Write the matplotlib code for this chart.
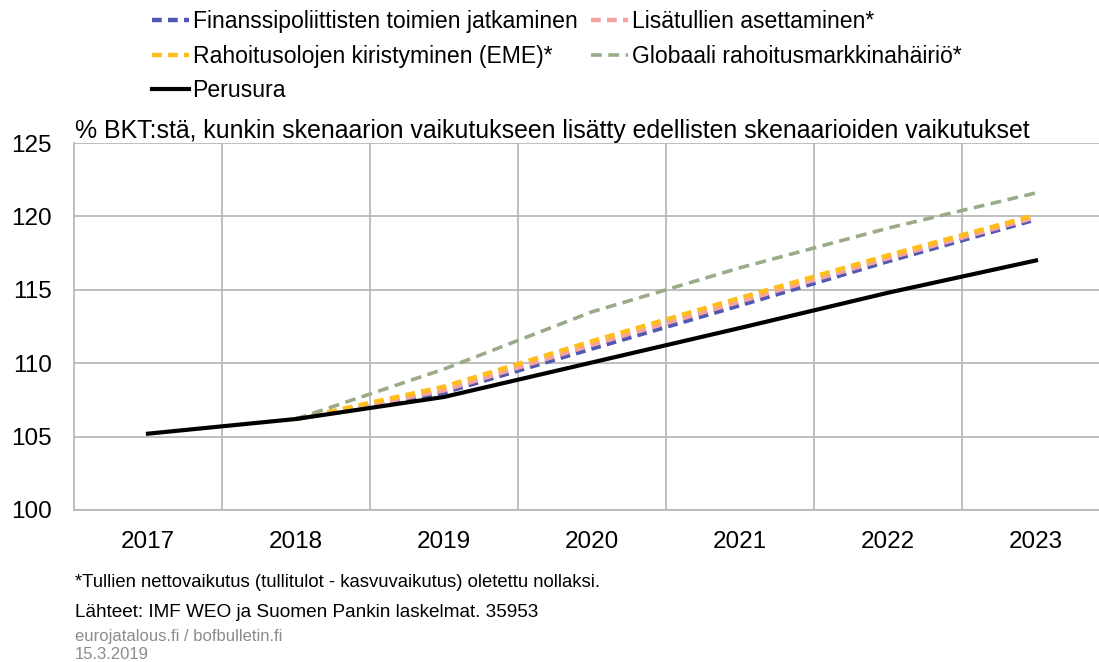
import numpy as np
import matplotlib
matplotlib.use('Agg')
import matplotlib.pyplot as plt

plt.rcParams['font.family'] = ['Liberation Sans', 'DejaVu Sans']

years = ['2017', '2018', '2019', '2020', '2021', '2022', '2023']

# scenario paths, % of GDP (cumulative effects)
finanssi = [np.nan, 106.2, 108.0, 111.0, 113.95, 116.95, 119.8]
lisatullit = [np.nan, 106.2, 108.15, 111.25, 114.2, 117.15, 119.95]
rahoitus_eme = [np.nan, 106.2, 108.4, 111.5, 114.45, 117.35, 120.1]
globaali = [np.nan, 106.2, 109.6, 113.5, 116.5, 119.2, 121.6]
perusura = [105.2, 106.2, 107.7, 110.05, 112.4, 114.8, 117.0]

labels = ['Finanssipoliittisten toimien jatkaminen',
          'Lisätullien asettaminen*',
          'Rahoitusolojen kiristyminen (EME)*',
          'Globaali rahoitusmarkkinahäiriö*',
          'Perusura']

fig = plt.figure(figsize=(10.99, 6.62), dpi=100)
ax = fig.add_axes([74 / 1099, 152 / 662, 1036 / 1099, 367 / 662])

x = np.arange(len(years))
dash = (0, (2.2, 1.4))
l1, = ax.plot(x, finanssi, color='#5058b4', lw=3.2, linestyle=dash)
l2, = ax.plot(x, lisatullit, color='#f4a3a0', lw=3.2, linestyle=dash)
l3, = ax.plot(x, rahoitus_eme, color='#ffbe1a', lw=3.2, linestyle=dash)
l4, = ax.plot(x, globaali, color='#9aab8a', lw=2.6, linestyle=(0, (3, 1.8)))
l5, = ax.plot(x, perusura, color='black', lw=3)

ax.set_xlim(-0.5, len(years) - 0.5)
ax.set_ylim(100, 125)
ax.set_yticks([100, 105, 110, 115, 120, 125])
ax.set_xticks(x)
ax.set_xticklabels(years)
ax.set_xticks(x[:-1] + 0.5, minor=True)
ax.tick_params(axis='both', which='both', length=0, labelsize=17.5)
ax.tick_params(axis='y', pad=16)
ax.tick_params(axis='x', pad=15)
ax.grid(True, axis='y', color='#b4b4b4', lw=1.2)
ax.grid(True, axis='x', which='minor', color='#b4b4b4', lw=1.2)
for s in ['left', 'bottom']:
    ax.spines[s].set_color('#b4b4b4')
    ax.spines[s].set_linewidth(1.2)
for s in ['top', 'right']:
    ax.spines[s].set_visible(False)
ax.set_axisbelow(True)

fig.text(75 / 1099, 1 - 138 / 662,
         '% BKT:stä, kunkin skenaarion vaikutukseen lisätty edellisten skenaarioiden vaikutukset',
         fontsize=17.9, va='baseline', ha='left')

leg = fig.legend([l1, l3, l5, l2, l4],
                 [labels[0], labels[2], labels[4], labels[1], labels[3]],
                 ncol=2, loc='upper left', bbox_to_anchor=(143 / 1099, 1 - 1 / 662),
                 frameon=False, fontsize=16.6, handlelength=1.6, handletextpad=0.15,
                 columnspacing=0.6, labelspacing=0.5, borderaxespad=0)

fig.text(75 / 1099, 1 - 587 / 662,
         '*Tullien nettovaikutus (tullitulot - kasvuvaikutus) oletettu nollaksi.',
         fontsize=13.3, va='baseline', ha='left')
fig.text(75 / 1099, 1 - 617 / 662,
         'Lähteet: IMF WEO ja Suomen Pankin laskelmat. 35953',
         fontsize=13.7, va='baseline', ha='left')
fig.text(75 / 1099, 1 - 641 / 662, 'eurojatalous.fi / bofbulletin.fi',
         fontsize=12, color='#8c8c8c', va='baseline', ha='left')
fig.text(75 / 1099, 1 - 659 / 662, '15.3.2019',
         fontsize=12, color='#8c8c8c', va='baseline', ha='left')

fig.savefig('out.png', dpi=100)
